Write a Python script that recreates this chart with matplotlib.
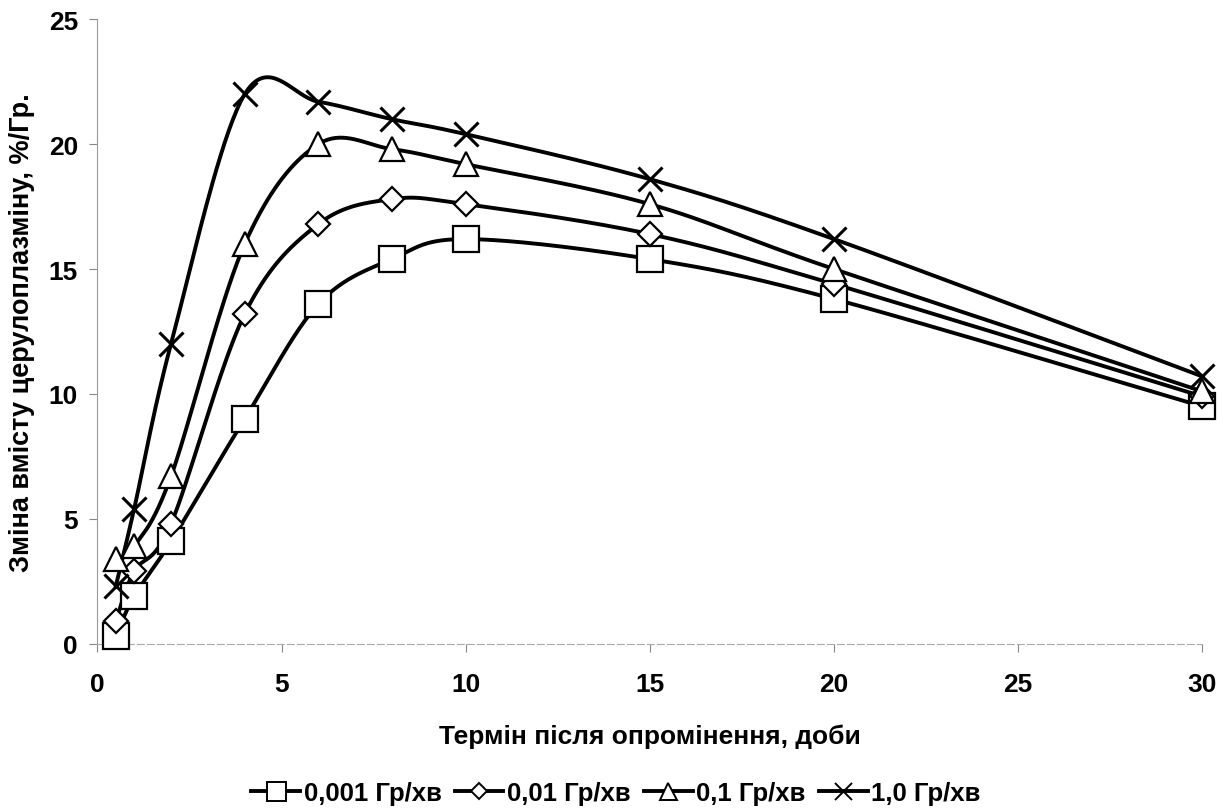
import numpy as np
import matplotlib
matplotlib.use("Agg")
from matplotlib import pyplot as plt

plt.rcParams['font.family'] = ['Liberation Sans', 'DejaVu Sans']
plt.rcParams['font.weight'] = 'bold'

# days after irradiation
days = [0.5, 1, 2, 4, 6, 8, 10, 15, 20, 30]

# change of ceruloplasmin content, %/Gy
s_0001 = [0.3, 1.9, 4.1, 9.0, 13.6, 15.4, 16.2, 15.4, 13.8, 9.5]
s_001 = [0.9, 2.9, 4.8, 13.2, 16.8, 17.8, 17.6, 16.4, 14.4, 9.9]
s_01 = [3.4, 3.9, 6.7, 16.0, 20.0, 19.8, 19.2, 17.6, 15.0, 10.1]
s_1 = [2.3, 5.4, 12.0, 22.0, 21.7, 21.0, 20.4, 18.6, 16.2, 10.7]

labels = ["0,001 Гр/хв", "0,01 Гр/хв", "0,1 Гр/хв", "1,0 Гр/хв"]
markers = ["s", "D", "^", "x"]
msizes = [19, 12, 17, 17]


def smooth(xs, ys, n=40):
    # excel-like smoothed line (bezier through the points)
    px = np.array(xs, float)
    py = np.array(ys, float)
    # scale to roughly screen proportions so tangents look right
    sx, sy = 36.9, 25.0
    px = px * sx
    py = py * sy
    outx, outy = [], []
    for i in range(len(px) - 1):
        p0 = i - 1 if i > 0 else i
        p3 = i + 2 if i + 2 < len(px) else i + 1
        c1x = px[i] + (px[i + 1] - px[p0]) / 6
        c1y = py[i] + (py[i + 1] - py[p0]) / 6
        c2x = px[i + 1] - (px[p3] - px[i]) / 6
        c2y = py[i + 1] - (py[p3] - py[i]) / 6
        t = np.linspace(0, 1, n)
        bx = (1-t)**3*px[i] + 3*(1-t)**2*t*c1x + 3*(1-t)*t**2*c2x + t**3*px[i+1]
        by = (1-t)**3*py[i] + 3*(1-t)**2*t*c1y + 3*(1-t)*t**2*c2y + t**3*py[i+1]
        outx.extend(bx)
        outy.extend(by)
    return np.array(outx) / sx, np.array(outy) / sy


fig = plt.figure(figsize=(12.32, 8.12), dpi=100)
ax = fig.add_axes([0.079, 0.206, 0.897, 0.769])

handles = []
for ys, lab, m, ms in zip([s_0001, s_001, s_01, s_1], labels, markers, msizes):
    cx, cy = smooth(days, ys)
    ax.plot(cx, cy, color="black", lw=2.8, zorder=2, clip_on=False)
    mew = 2.2 if m == "x" else 1.6
    ax.plot(days, ys, linestyle="none", marker=m, ms=ms, mfc="white",
            mec="black", mew=mew, zorder=3, clip_on=False)
    h, = ax.plot([], [], color="black", lw=2.8, marker=m, ms=ms * 0.72,
                 mfc="white", mec="black", mew=1.4, label=lab)
    handles.append(h)

ax.set_xlim(0, 30)
ax.set_ylim(0, 25)
ax.set_xticks([0, 5, 10, 15, 20, 25, 30])
ax.set_yticks([0, 5, 10, 15, 20, 25])
ax.tick_params(labelsize=19, length=6, color="#888888", pad=14)
ax.tick_params(axis="y", pad=8)
for lab in ax.get_xticklabels() + ax.get_yticklabels():
    lab.set_fontweight("bold")

ax.spines["top"].set_visible(False)
ax.spines["right"].set_visible(False)
ax.spines["left"].set_color("#999999")
ax.spines["left"].set_linestyle((0, (4, 1)))
ax.spines["bottom"].set_color("#aaaaaa")
ax.spines["bottom"].set_linestyle((0, (6, 3)))

ax.set_xlabel("Термін після опромінення, доби", fontsize=19,
              fontweight="bold", labelpad=20)
ax.set_ylabel("Зміна вмісту церулоплазміну, %/Гр.", fontsize=19.5,
              fontweight="bold", labelpad=10)

fig.legend(handles=handles, loc="center", bbox_to_anchor=(0.5, 0.022),
           ncol=4, frameon=False, handlelength=1.9,
           handletextpad=0.15, columnspacing=0.5,
           prop={"weight": "bold", "size": 18.5})

fig.savefig("out.png", dpi=100)
